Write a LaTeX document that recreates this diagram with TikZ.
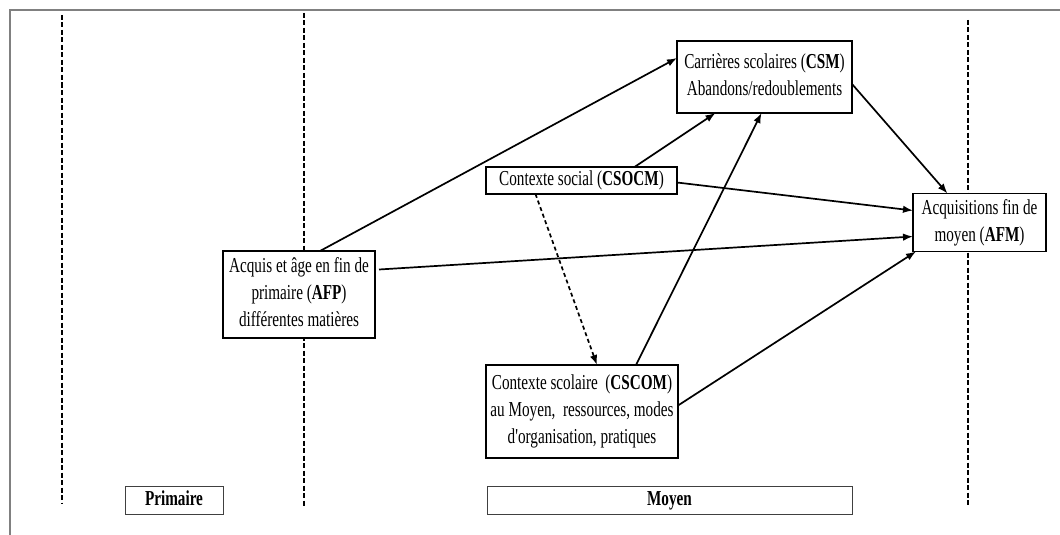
\documentclass[tikz,border=0pt]{standalone}
\usepackage{fontspec}
\setmainfont{Liberation Serif}[Ligatures=TeXOff]
\usetikzlibrary{calc,arrows.meta}
\newcommand\lbl[1]{\scalebox{1}[1.4]{\begin{tabular}{@{}c@{}}#1\end{tabular}}}
\begin{document}
\begin{tikzpicture}[x=1pt,y=-1pt,
  box/.style={draw,line width=1.8pt,inner sep=0pt,outer sep=0pt,font=\fontsize{15.2}{19.3}\selectfont},
  band/.style={draw=black!75,line width=1pt,inner sep=0pt,outer sep=0pt,font=\fontsize{15.2}{19.3}\selectfont\bfseries},
  sep/.style={line width=1.5pt,dash pattern=on 5pt off 2.5pt},
  link/.style={line width=1.7pt,-{Latex[length=10pt,width=7.5pt]}},
  dlink/.style={link,dash pattern=on 4pt off 3pt}]
\useasboundingbox (0,0) rectangle (1060,535);
\draw[gray,line width=2pt] (10,535) -- (10,10) -- (1060,10);
% separators
\coordinate (s1a) at (62,15);  \coordinate (s1b) at (62,503);
\coordinate (s2a) at (304,13); \coordinate (s2b) at (304,507);
\coordinate (s3a) at (968,20); \coordinate (s3b) at (968,505);
\draw[sep] (s1a) -- (s1b);
\draw[sep] (s2a) -- (s2b);
\draw[sep] (s3a) -- (s3b);
% nodes
\node[box,fill=white,minimum width=175pt,minimum height=72pt] (csm) at (764.5,77)
  {\lbl{Carrières scolaires (\textbf{CSM})\\Abandons/redoublements}};
\node[box,fill=white,minimum width=191pt,minimum height=25pt] (csocm) at (581.5,180.5)
  {\lbl{Contexte social (\textbf{CSOCM})}};
\node[box,fill=white,minimum width=152pt,minimum height=87pt] (afp) at (299,294.5)
  {\lbl{Acquis et âge en fin de\\primaire (\textbf{AFP})\\différentes matières}};
\node[box,fill=white,minimum width=192pt,minimum height=93pt] (cscom) at (582,411.5)
  {\lbl{Contexte scolaire~ (\textbf{CSCOM})\\au Moyen,~ ressources, modes\\d'organisation, pratiques}};
\node[box,fill=white,minimum width=133pt,minimum height=58pt] (afm) at (979.5,222.5)
  {\lbl{Acquisitions fin de\\moyen (\textbf{AFM})}};
\node[band,minimum width=98pt,minimum height=28pt] (prim) at (174,500) {\lbl{Primaire}};
\node[band,minimum width=365pt,minimum height=28pt] (moy) at (669.5,500) {\lbl{Moyen}};
% connectors
\draw[link] ($(afp.north)+(21,0)$) -- ($(csm.west)+(0,-19)$);
\draw[link] ($(csocm.north)+(53,0)$) -- ($(csm.south)+(-49,0)$);
\draw[link] ($(cscom.north)+(54,0)$) -- ($(csm.south)+(-3,0)$);
\draw[link] ($(csm.east)+(0,7)$) -- ($(afm.north)+(-32,0)$);
\draw[link] ($(csocm.east)+(0,2)$) -- ($(afm.west)+(0,-12)$);
\draw[link] ($(afp.east)+(4,-25)$) -- ($(afm.west)+(0,14)$);
\draw[link] ($(cscom.east)+(0,-6)$) -- ($(afm.south west)+(3,0)$);
\draw[dlink] ($(csocm.south)+(-46,0)$) -- ($(cscom.north)+(15,0)$);
\end{tikzpicture}
\end{document}
